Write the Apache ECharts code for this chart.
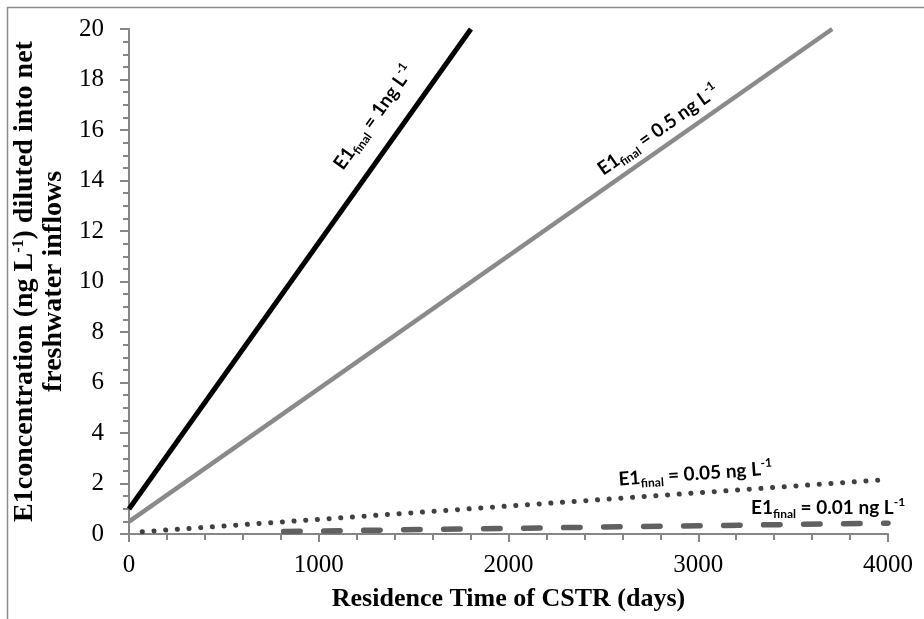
<!DOCTYPE html>
<html>
<head>
<meta charset="utf-8">
<script src="https://cdn.jsdelivr.net/npm/echarts@6/dist/echarts.min.js"></script>
<style>
  html, body { margin: 0; padding: 0; background: #ffffff; }
  #chart { width: 924px; height: 619px; }
</style>
</head>
<body>
<div id="chart"></div>
<script>
// Residence time (days) and diluted E1 concentration (ng/L) for each target E1 level
const residence1 = [0, 1802];
const conc1 = [0.99, 20];

const residence05 = [0, 3706];
const conc05 = [0.49, 20];

const residence005 = [70, 4000];
const conc005 = [0.09, 2.16];

const residence001 = [815, 4000];
const conc001 = [0.10, 0.43];

// Axis ranges
const xMin = 0, xMax = 4000, xStep = 1000;
const yMin = 0, yMax = 20, yStep = 2;

// Line labels (rich text)
const labelTexts = [
  '{b|E1}{sub|final}{b| = 1ng L}{sup|-1}',
  '{b|E1}{sub|final}{b| = 0.5 ng L}{sup|-1}',
  '{b|E1}{sub|final}{b| = 0.05 ng L}{sup|-1}',
  '{b|E1}{sub|final}{b| = 0.01 ng L}{sup|-1}'
];

function pairs(xs, ys) {
  return xs.map((x, i) => [x, ys[i]]);
}

const serif = '"Liberation Serif", "Times New Roman", serif';
const sans = 'Lato, Carlito, Calibri, "Open Sans", sans-serif';
const axisGray = '#868686';

const chart = echarts.init(document.getElementById('chart'), null, { renderer: 'canvas' });

const option = {
  animation: false,
  backgroundColor: '#ffffff',
  grid: { left: 129, right: 36, top: 29, bottom: 85, containLabel: false },
  xAxis: {
    type: 'value',
    min: xMin, max: xMax, interval: xStep,
    name: 'Residence Time of CSTR (days)',
    nameLocation: 'middle',
    nameGap: 52,
    nameTextStyle: { fontFamily: serif, fontWeight: 'bold', fontSize: 26, color: '#000' },
    axisLine: { show: true, lineStyle: { color: axisGray, width: 2 } },
    axisTick: { show: true, length: 8, lineStyle: { color: axisGray, width: 2 } },
    minorTick: { show: true, splitNumber: 5, length: 6, lineStyle: { color: axisGray, width: 2 } },
    splitLine: { show: false },
    axisLabel: { fontFamily: serif, fontSize: 25, color: '#000', margin: 19, formatter: v => String(v) }
  },
  yAxis: {
    type: 'value',
    min: yMin, max: yMax, interval: yStep,
    name: '{b|E1concentration (ng L}{sup|-1}{b|) diluted into net}\n{b|freshwater inflows}',
    nameLocation: 'middle',
    nameRotate: 90,
    nameGap: 53,
    nameTextStyle: {
      color: '#000',
      align: 'center',
      rich: {
        b: { fontFamily: serif, fontWeight: 'bold', fontSize: 28, lineHeight: 29, color: '#000' },
        sup: { fontFamily: serif, fontWeight: 'bold', fontSize: 16, lineHeight: 29, verticalAlign: 'top', color: '#000' }
      }
    },
    axisLine: { show: true, lineStyle: { color: axisGray, width: 2 } },
    axisTick: { show: true, length: 9, lineStyle: { color: axisGray, width: 2 } },
    minorTick: { show: true, splitNumber: 4, length: 6, lineStyle: { color: axisGray, width: 2 } },
    splitLine: { show: false },
    axisLabel: { fontFamily: serif, fontSize: 25, color: '#000', margin: 25, formatter: v => String(v) }
  },
  series: [
    {
      name: 'E1 final 1 ng/L', type: 'line', data: pairs(residence1, conc1),
      showSymbol: false, symbol: 'none', silent: true, clip: true,
      lineStyle: { color: '#000000', width: 5 }
    },
    {
      name: 'E1 final 0.5 ng/L', type: 'line', data: pairs(residence05, conc05),
      showSymbol: false, symbol: 'none', silent: true, clip: true,
      lineStyle: { color: '#8a8a8a', width: 4.5 }
    },
    {
      name: 'E1 final 0.05 ng/L', type: 'line', data: pairs(residence005, conc005),
      showSymbol: false, symbol: 'none', silent: true, clip: true,
      lineStyle: { color: '#404040', width: 5, type: [0.1, 11.6], cap: 'round' }
    },
    {
      name: 'E1 final 0.01 ng/L', type: 'line', data: pairs(residence001, conc001),
      showSymbol: false, symbol: 'none', silent: true, clip: true,
      lineStyle: { color: '#606060', width: 5.5, type: [16.5, 23.5], cap: 'round' }
    }
  ],
  graphic: [
    {
      type: 'rect', silent: true, z: -1,
      shape: { x: 7.5, y: 7.5, width: 1000, height: 1000 },
      style: { fill: null, stroke: '#8c8c8c', lineWidth: 1.5 }
    }
  ]
};

chart.setOption(option);

// Place each line label along its line, rotated to the line's on-screen slope
const labelRich = {
  b: { fontFamily: sans, fontWeight: 'bold', fontSize: 19, lineHeight: 24, color: '#000' },
  sub: { fontFamily: sans, fontWeight: 'bold', fontSize: 12, lineHeight: 12, verticalAlign: 'bottom', color: '#000' },
  sup: { fontFamily: sans, fontWeight: 'bold', fontSize: 12, lineHeight: 12, verticalAlign: 'top', color: '#000' }
};
const lineRefs = [
  [residence1, conc1, [1290, 16.5], true],
  [residence05, conc05, [2790, 16.0], true],
  [residence005, conc005, [2985, 2.38], true],
  [residence001, conc001, [3684, 1.03], false]
];
const labelGraphics = lineRefs.map(([xs, ys, anchor, follow], i) => {
  const p0 = chart.convertToPixel({ gridIndex: 0 }, [xs[0], ys[0]]);
  const p1 = chart.convertToPixel({ gridIndex: 0 }, [xs[1], ys[1]]);
  const angle = follow ? Math.atan2(p0[1] - p1[1], p1[0] - p0[0]) : 0;
  const c = chart.convertToPixel({ gridIndex: 0 }, anchor);
  return {
    type: 'text', silent: true, z: 10,
    x: c[0], y: c[1], rotation: angle,
    style: {
      text: labelTexts[i], rich: labelRich,
      align: 'center', verticalAlign: 'middle'
    }
  };
});
chart.setOption({ graphic: option.graphic.concat(labelGraphics) });
</script>
</body>
</html>
